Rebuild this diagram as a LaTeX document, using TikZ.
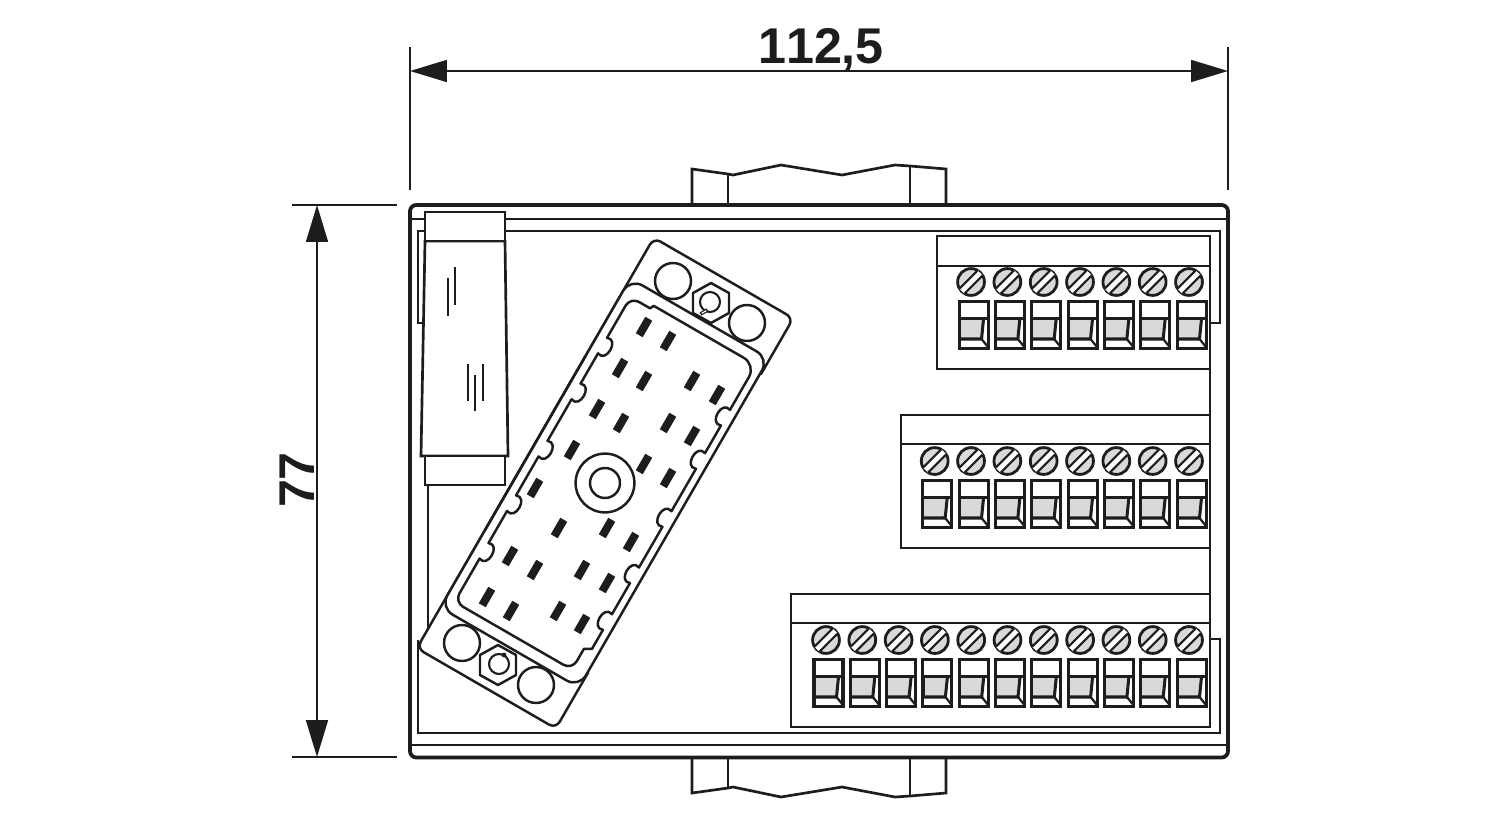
\documentclass[tikz,border=0pt]{standalone}
\usepackage{fontspec}
\setmainfont[Kerning=Off]{Liberation Sans}
\usetikzlibrary{arrows.meta}
\definecolor{ink}{HTML}{1D1D1B}
\definecolor{screwgray}{HTML}{D9D9D8}
\tikzset{
  x=0.05cm,y=-0.05cm,
  heavy/.style={draw=ink,line width=5.4pt,line join=round},
  med/.style={draw=ink,line width=3.8pt,line join=miter},
  termline/.style={draw=ink,line width=4.3pt,line join=miter},
  conn/.style={draw=ink,line width=3.5pt,line join=round},
  thin line/.style={draw=ink,line width=3.2pt},
  dimension/.style={draw=ink,line width=3pt,{Triangle[length=52.4pt,width=31pt]}-{Triangle[length=52.4pt,width=31pt]}},
  extension/.style={draw=ink,line width=2.8pt},
  dimtext/.style={font=\fontsize{71.5}{72}\selectfont\bfseries,text=ink,inner sep=0pt},
}
\newcommand{\terminalunit}{%
  \filldraw[fill=screwgray,draw=ink,line width=4pt] (0,0) circle[radius=0.67cm];
  \fill[white] (-6.7,11.7) -- (11.7,-6.7) -- (6.7,-11.7) -- (-11.7,6.7) -- cycle;
  \draw[draw=ink,line width=3pt] (-6.7,11.7) -- (11.7,-6.7) (-11.7,6.7) -- (6.7,-11.7);
  \begin{scope}[shift={(2.5,0)}]
  \draw[termline,fill=white] (-14.5,19.5) rectangle (14.5,66.5);
  \fill[screwgray] (-14,37) -- (10,37) -- (8,57) -- (-14,57) -- cycle;
  \draw[termline] (-14.5,36.5) -- (14.5,36.5);
  \draw[termline] (10,37) -- (8,57) -- (-14,57);
  \draw[thin line] (-14,37) -- (-14,57);
  \draw[thin line] (8,57) -- (14.5,65);
  \end{scope}
}
\newcommand{\rnotch}[1]{-- (72,#1-9) .. controls (60,#1-14) and (60,#1+14) .. (72,#1+9)}
\newcommand{\lnotch}[1]{-- (-70.5,#1+9) .. controls (-58.5,#1+14) and (-58.5,#1-14) .. (-70.5,#1-9)}
\begin{document}
\begin{tikzpicture}
\useasboundingbox (0,0) rectangle (1500,820);
\fill[white] (0,0) rectangle (1500,820);

% dimensions
\coordinate (hl) at (410,71); \coordinate (hr) at (1228,71);
\coordinate (vt) at (317,205); \coordinate (vb) at (317,757);
\draw[extension] (410,47) -- (410,190);
\draw[extension] (1228,47) -- (1228,190);
\draw[extension] (292,205) -- (397,205);
\draw[extension] (292,757) -- (397,757);
\draw[dimension] (hl) -- (hr);
\draw[dimension] (vt) -- (vb);
\node[dimtext] (wlabel) at (821,50) {112,5};
\node[dimtext,rotate=90] (hlabel) at (297.5,480) {77};

% rail clips
\draw[med] (692,205) -- (692,169) -- (728,174) -- (733,175) -- (781,165) -- (842,175) -- (895,165) -- (910,166) -- (946,169) -- (946,205);
\draw[med] (728,174) -- (728,205) (910,166) -- (910,205);
\draw[med] (692,758) -- (692,793) -- (728,788) -- (733,787) -- (781,797) -- (842,787) -- (895,797) -- (910,796) -- (946,793) -- (946,758);
\draw[med] (728,788) -- (728,758) (910,796) -- (910,758);

% housing
\draw[heavy,fill=white,rounded corners=9pt] (410,205) rectangle (1228,757.5);
\draw[med] (411,219) -- (1227,219);
\draw[med] (411,745) -- (1227,745);
\draw[med] (423,323) -- (418,323) -- (418,231) -- (1220,231) -- (1220,323) -- (1210,323);
\draw[med] (418,640) -- (418,733) -- (1220,733) -- (1220,639) -- (1210,639);
\draw[med] (1210,236) -- (1210,727);
\draw[thin line] (428,485) -- (428,630);

% latch
\draw[med,fill=white] (425,241) -- (421,456) -- (508,456) -- (505,241) -- cycle;
\draw[med,fill=white] (425,212) rectangle (505,241);
\draw[med,fill=white] (425,456) rectangle (505,485);
\foreach \lx/\ly/\lz in {455/267/305,448/278/316,468/364/401,475/375/411,483/364/401}
  \draw[thin line] (\lx,\ly) -- (\lx,\lz);

% rotated connector
\begin{scope}[shift={(604.6,483)},rotate=-30]
  \draw[conn,fill=white,rounded corners=11pt] (-80,0) -- (-80,-237) -- (81,-237) -- (81,-172);
  \draw[conn,fill=white,rounded corners=11pt] (-80,0) -- (-80,237) -- (80.5,237) -- (80.5,172);
  \draw[conn,fill=white,rounded corners=20pt] (-80,0) -- (-80,-190) -- (80,-190) -- (80,190) -- (-80,190) -- cycle;
  \draw[conn] (-80,-100) -- (-80,100);
  \draw[conn,rounded corners=20pt] (-46,-178) -- (72,-178) [sharp corners]
    \rnotch{-117} \rnotch{-67} \rnotch{0} \rnotch{65} \rnotch{119}
    -- (72,150) -- (65,154) [rounded corners=14pt] -- (65,178) -- (-70.5,178) [sharp corners]
    \lnotch{119} \lnotch{64} \lnotch{1} \lnotch{-65} \lnotch{-118}
    [rounded corners=14pt] -- (-70.5,-174) [sharp corners] -- (-48,-174) -- cycle;
\end{scope}

\foreach \px/\py in {644/327,668/341,620/368,644/381,692/381,717/395,597/409,621/423,668/423,692/436,572/450,644/464,668/478,535/488,559/528,607/528,631/542,510/556,535/570,582/570,607/583,487/597,511/611,558/611,582/624}
  \fill[ink,shift={(\px,\py)},rotate=-30] (-4,-9.5) rectangle (4,9.5);

% mounting holes and nuts
\foreach \cx/\cy in {673/281,747/323,462/643,536/685}
  \draw[conn] (\cx,\cy) circle[radius=0.9cm];
\draw[conn] (605,483) circle[radius=1.47cm];
\draw[conn] (605,483) circle[radius=0.75cm];
\foreach \nx/\ny/\ix/\iy in {711/303/710/302,498/665/499/664}{
  \draw[conn] (\nx,\ny-20) -- (\nx+18,\ny-10) -- (\nx+18,\ny+10) -- (\nx,\ny+20) -- (\nx-18,\ny+10) -- (\nx-18,\ny-10) -- cycle;
  \draw[conn,line width=3pt] (\ix,\iy) circle[radius=0.5cm];
}
\fill[ink,shift={(704,312)},rotate=30] (-4,-1.8) rectangle (4,1.8);
\fill[white,shift={(704,312)},rotate=30] (-2.6,-0.6) rectangle (2.6,0.6);
\fill[ink] (504,655) circle[radius=0.12cm];

% terminal blocks
\draw[med,fill=white] (937,236) rectangle (1210,369);
\draw[med] (937,266) -- (1210,266);
\draw[med,fill=white] (901,415) rectangle (1210,548);
\draw[med] (901,444) -- (1210,444);
\draw[med,fill=white] (791,594) rectangle (1210,727);
\draw[med] (791,623) -- (1210,623);
\foreach \n in {0,...,6}{
  \begin{scope}[shift={(1189-36.33*\n,282)}]\terminalunit\end{scope}
}
\foreach \n in {0,...,7}{
  \begin{scope}[shift={(1189-36.33*\n,461)}]\terminalunit\end{scope}
}
\foreach \n in {0,...,10}{
  \begin{scope}[shift={(1189-36.3*\n,640)}]\terminalunit\end{scope}
}
\end{tikzpicture}
\end{document}
